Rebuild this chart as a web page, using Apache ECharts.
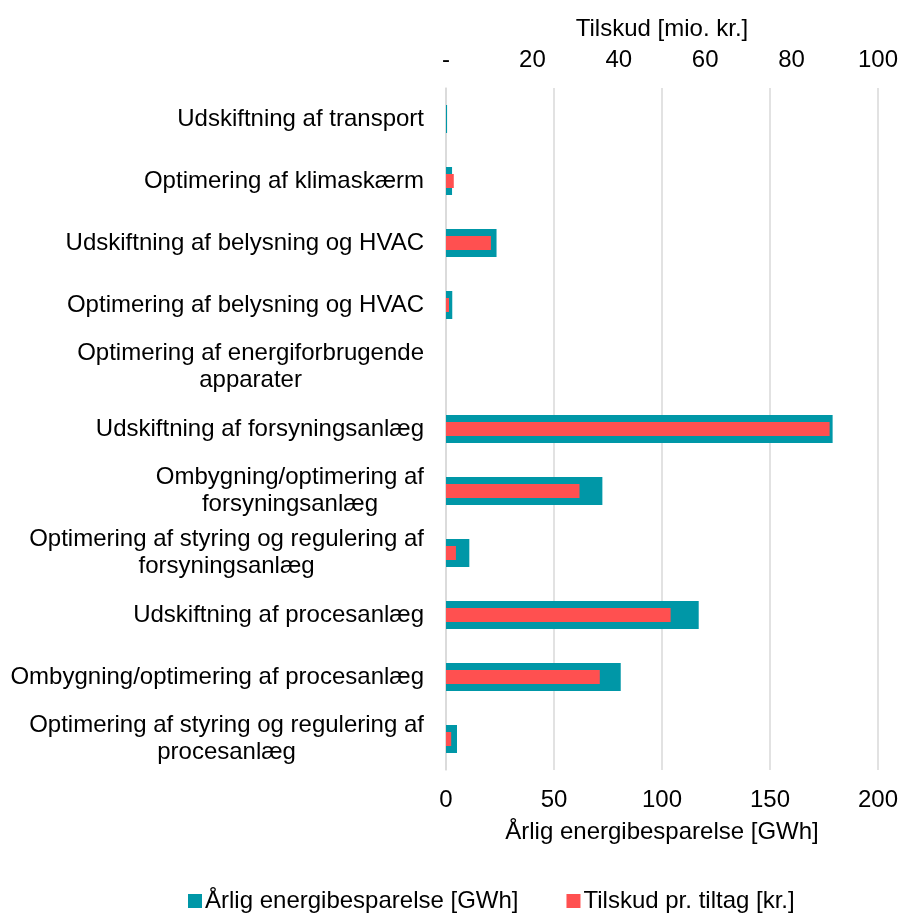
<!DOCTYPE html>
<html>
<head>
<meta charset="utf-8">
<script src="https://cdn.jsdelivr.net/npm/echarts@6/dist/echarts.min.js"></script>
<style>
  html, body { margin: 0; padding: 0; background: #fff; }
  #chart { width: 901px; height: 913px; }
</style>
</head>
<body>
<div id="chart"></div>
<script>
// kategorier (top -> bund)
const categories = [
  'Udskiftning af transport',
  'Optimering af klimaskærm',
  'Udskiftning af belysning og HVAC',
  'Optimering af belysning og HVAC',
  'Optimering af energiforbrugende\napparater',
  'Udskiftning af forsyningsanlæg',
  'Ombygning/optimering af\nforsyningsanlæg',
  'Optimering af styring og regulering af\nforsyningsanlæg',
  'Udskiftning af procesanlæg',
  'Ombygning/optimering af procesanlæg',
  'Optimering af styring og regulering af\nprocesanlæg'
]
// GWh (nederste akse)
const energySaving = [0.5, 2.8, 23.4, 2.9, 0, 179, 72.4, 10.8, 117, 80.9, 5.1]
// mio. kr. (øverste akse)
const subsidy = [0, 1.8, 10.4, 0.7, 0, 88.8, 30.9, 2.3, 52, 35.6, 1.2]

const FONT = 'Liberation Sans, Arial, sans-serif'
const FS = 24

const chart = echarts.init(document.getElementById('chart'), null, { renderer: 'canvas' })

const option = {
  backgroundColor: '#fff',
  animation: false,
  textStyle: { fontFamily: FONT, color: '#000' },
  grid: { left: 446, right: 23, top: 88, bottom: 143 },
  legend: {
    top: 889,
    left: 188,
    padding: 0,
    itemWidth: 14,
    itemHeight: 14,
    itemGap: 48,
    icon: 'rect',
    textStyle: { fontFamily: FONT, fontSize: FS, color: '#000', padding: [0, 0, 0, -2] },
    data: ['Årlig energibesparelse [GWh]', 'Tilskud pr. tiltag [kr.]']
  },
  xAxis: [
    {
      type: 'value',
      position: 'bottom',
      min: 0, max: 200, interval: 50,
      name: 'Årlig energibesparelse [GWh]',
      nameLocation: 'middle',
      nameGap: 50,
      nameTextStyle: { fontFamily: FONT, fontSize: FS, color: '#000' },
      axisLine: { show: false },
      axisTick: { show: false },
      axisLabel: { fontFamily: FONT, fontSize: FS, color: '#000', margin: 18 },
      splitLine: { lineStyle: { color: '#d9d9d9', width: 1.5 } }
    },
    {
      type: 'value',
      position: 'top',
      min: 0, max: 100, interval: 20,
      name: 'Tilskud [mio. kr.]',
      nameLocation: 'middle',
      nameGap: 47,
      nameTextStyle: { fontFamily: FONT, fontSize: FS, color: '#000' },
      axisLine: { show: false },
      axisTick: { show: false },
      axisLabel: {
        fontFamily: FONT, fontSize: FS, color: '#000', margin: 16,
        formatter: v => (v === 0 ? '-' : v)
      },
      splitLine: { show: false }
    }
  ],
  yAxis: [
    {
      type: 'category',
      inverse: true,
      data: categories,
      axisLine: { lineStyle: { color: '#d9d9d9', width: 1.5 } },
      axisTick: { show: false },
      axisLabel: {
        margin: 22,
        align: 'right',
        formatter: v => v.split('\n').map(s => '{c|' + s + '}').join('\n'),
        rich: {
          c: { fontFamily: FONT, fontSize: FS, color: '#000', align: 'center', lineHeight: 27 }
        }
      }
    },
    {
      type: 'category',
      inverse: true,
      data: categories,
      show: false
    }
  ],
  series: [
    {
      name: 'Årlig energibesparelse [GWh]',
      type: 'bar',
      xAxisIndex: 0,
      yAxisIndex: 0,
      barWidth: 28,
      itemStyle: { color: '#0097a7' },
      data: energySaving
    },
    {
      name: 'Tilskud pr. tiltag [kr.]',
      type: 'bar',
      xAxisIndex: 1,
      yAxisIndex: 1,
      barWidth: 14,
      itemStyle: { color: '#ff5050' },
      data: subsidy
    }
  ]
}

chart.setOption(option)
</script>
</body>
</html>
